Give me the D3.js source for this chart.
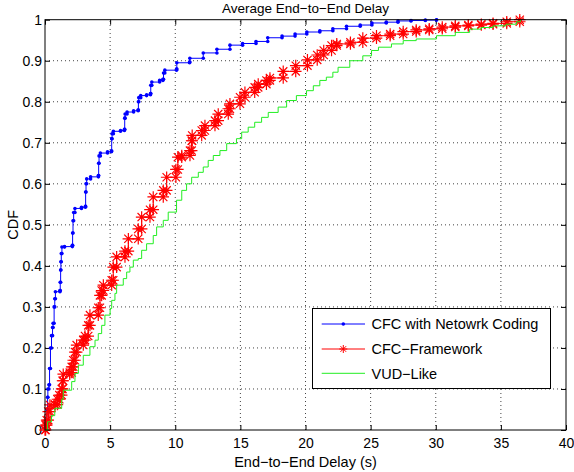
<!DOCTYPE html>
<html><head><meta charset="utf-8">
<script src="https://cdn.jsdelivr.net/npm/d3@7"></script>
<style>
body{margin:0;background:#fff}
svg{display:block}
text{font-family:"Liberation Sans",Arial,Helvetica,sans-serif;fill:#000}
</style>
</head><body>
<svg id="c" width="574" height="472"></svg>
<script>
const seriesNames = ["CFC with Netowrk Coding", "CFC\u2212Framework", "VUD\u2212Like"];
const blueX = [0.05,0.1,0.15,0.2,0.22,0.3,0.35,0.42,0.5,0.58,0.62,0.7,0.75,0.8,1.15,1.17,1.2,1.22,1.25,1.3,1.5,2.1,2.12,2.15,2.2,2.3,2.8,3.1,3.12,3.15,3.2,3.5,4.1,4.12,4.15,4.25,4.8,5.1,5.12,5.15,5.25,5.8,6.1,6.12,6.15,6.3,6.8,7.15,7.17,7.2,7.35,7.8,8.1,8.12,8.2,8.8,9.05,9.1,9.2,10.1,10.12,11.1,11.12,12.15,13.2,14.2,15.17,16.2,17.1,18.2,19.2,20.1,21.1,22.1,23.15,24.2,25.1,26.2,27.1,28.1,29.2,30.06];
const blueY = [0.005,0.02,0.05,0.08,0.1,0.11,0.15,0.2,0.23,0.25,0.26,0.3,0.32,0.337,0.34,0.36,0.39,0.41,0.43,0.446,0.447,0.45,0.48,0.51,0.53,0.54,0.543,0.545,0.58,0.6,0.612,0.617,0.62,0.65,0.668,0.675,0.678,0.68,0.71,0.722,0.728,0.73,0.733,0.76,0.77,0.775,0.778,0.78,0.8,0.81,0.815,0.817,0.82,0.84,0.848,0.852,0.855,0.87,0.877,0.88,0.895,0.897,0.906,0.919,0.928,0.938,0.942,0.947,0.956,0.96,0.965,0.97,0.973,0.978,0.984,0.987,0.992,0.994,0.997,0.998,0.999,1.0];
const redX = [0,0.05,0.13,0.25,0.38,0.77,0.95,1.1,1.28,1.35,1.4,1.9,2.05,2.17,2.3,2.43,2.94,3.07,3.32,3.45,4.09,4.22,4.35,4.48,5.12,5.24,5.5,6.14,6.4,7.16,7.42,8.06,8.31,9.08,9.34,10.05,10.2,10.5,11.13,11.26,11.3,12.03,12.28,13.05,13.3,14.07,14.2,14.97,15.35,16.1,16.37,17.0,17.27,18.29,19.25,20.15,20.9,21.4,22.0,22.4,23.45,24.4,25.45,26.5,27.5,28.5,29.5,30.5,31.5,32.5,33.5,34.4,35.45,36.45];
const redY = [0,0.012,0.024,0.045,0.061,0.062,0.075,0.085,0.1,0.12,0.136,0.14,0.154,0.17,0.19,0.207,0.219,0.229,0.255,0.28,0.298,0.328,0.34,0.353,0.365,0.397,0.422,0.436,0.466,0.49,0.519,0.537,0.568,0.584,0.616,0.635,0.665,0.669,0.681,0.705,0.718,0.73,0.742,0.754,0.77,0.783,0.795,0.811,0.823,0.835,0.843,0.852,0.858,0.874,0.888,0.902,0.914,0.925,0.937,0.941,0.945,0.955,0.961,0.965,0.971,0.975,0.978,0.982,0.985,0.987,0.989,0.991,0.995,1.0];
const greenX = [0,0.2,0.5,0.75,1.28,1.4,2.05,2.3,2.56,2.94,3.45,3.84,4.09,4.35,4.6,5.0,5.12,5.37,5.5,6.01,6.27,6.52,6.78,7.16,7.42,7.8,8.31,8.57,9.08,9.46,10.1,10.5,10.87,11.26,11.77,12.15,12.53,12.92,13.43,13.95,14.7,15.1,15.6,16.1,16.63,17.14,17.9,18.55,19.3,20.08,20.6,21.1,21.6,22.1,22.5,23.4,24.4,25.07,25.6,26.6,27.5,28.5,30.06,31.5,32.6,33.5,34.4,35.4,36.2,36.5];
const greenY = [0,0.02,0.035,0.053,0.075,0.097,0.118,0.138,0.158,0.182,0.203,0.219,0.235,0.255,0.28,0.296,0.316,0.333,0.353,0.369,0.385,0.397,0.414,0.418,0.438,0.454,0.474,0.495,0.511,0.531,0.56,0.584,0.6,0.616,0.628,0.641,0.657,0.669,0.681,0.698,0.71,0.726,0.738,0.75,0.762,0.774,0.787,0.803,0.815,0.827,0.839,0.852,0.86,0.872,0.884,0.9,0.912,0.925,0.933,0.941,0.949,0.953,0.961,0.969,0.977,0.981,0.985,0.989,0.995,1.0];
const xTicks = [0,5,10,15,20,25,30,35,40];
const yTicks = [0,0.1,0.2,0.3,0.4,0.5,0.6,0.7,0.8,0.9,1];
const yTickLabels = ["0","0.1","0.2","0.3","0.4","0.5","0.6","0.7","0.8","0.9","1"];
const titleText = "Average End\u2212to\u2212End Delay";
const xLabel = "End\u2212to\u2212End Delay (s)";
const yLabel = "CDF";

// ---- layout ----
const L = 45, R = 566, T = 19.7, B = 430;
const x = d3.scaleLinear().domain([0, 40]).range([L, R]);
const y = d3.scaleLinear().domain([0, 1]).range([B, T]);
const svg = d3.select("#c");
svg.append("rect").attr("width", 574).attr("height", 472).attr("fill", "#fff");

// grid
const grid = svg.append("g").attr("stroke", "#444").attr("stroke-width", 1).attr("stroke-dasharray", "1,3");
grid.selectAll("line.gx").data(xTicks.slice(1, -1)).join("line")
  .attr("x1", d => x(d)).attr("x2", d => x(d)).attr("y1", y(0)).attr("y2", y(1));
grid.selectAll("line.gy").data(yTicks.slice(1, -1)).join("line")
  .attr("y1", d => y(d)).attr("y2", d => y(d)).attr("x1", x(0)).attr("x2", x(40));

// axes with inward ticks
const fs = "14px";
const gx = svg.append("g").attr("transform", `translate(0,${B})`)
  .call(d3.axisBottom(x).tickValues(xTicks).tickSize(-5).tickSizeOuter(0).tickPadding(8).tickFormat(d3.format("d")));
const gy = svg.append("g").attr("transform", `translate(${L},0)`)
  .call(d3.axisLeft(y).tickValues(yTicks).tickSize(-5).tickSizeOuter(0).tickPadding(3).tickFormat((d, i) => yTickLabels[i]));
const gt = svg.append("g").attr("transform", `translate(0,${T})`)
  .call(d3.axisTop(x).tickValues(xTicks).tickSize(-5).tickSizeOuter(0).tickFormat(""));
const gr = svg.append("g").attr("transform", `translate(${R},0)`)
  .call(d3.axisRight(y).tickValues(yTicks).tickSize(-5).tickSizeOuter(0).tickFormat(""));
[gx, gy, gt, gr].forEach(g => {
  g.select(".domain").remove();
  g.selectAll("text").attr("font-size", fs).attr("font-family", '"Liberation Sans",Arial,sans-serif').attr("fill", "#000");
  g.selectAll("line").attr("stroke", "#000");
});

// series
function corners(xs, ys) {
  const pts = [];
  for (let i = 0; i < xs.length; i++) {
    pts.push([xs[i], ys[i]]);
    if (i + 1 < xs.length) pts.push([xs[i + 1], ys[i]]);
  }
  return pts;
}
const line = d3.line().x(d => x(d[0])).y(d => y(d[1]));
function asterisk(r) {
  const a = r * 0.7071;
  return `M${-r},0L${r},0M0,${-r}L0,${r}M${-a},${-a}L${a},${a}M${-a},${a}L${a},${-a}`;
}
const colBlue = "#0000ff", colRed = "#ff0000", colGreen = "#22ee22";

const bluePts = corners(blueX, blueY);
svg.append("path").datum(bluePts).attr("d", line).attr("fill", "none").attr("stroke", colBlue).attr("stroke-width", 1);
svg.append("g").selectAll("circle").data(bluePts).join("circle")
  .attr("cx", d => x(d[0])).attr("cy", d => y(d[1])).attr("r", 1.8).attr("fill", colBlue);

const redPts = corners(redX, redY);
svg.append("path").datum(redPts).attr("d", line).attr("fill", "none").attr("stroke", colRed).attr("stroke-width", 1);
svg.append("g").selectAll("path").data(redPts).join("path")
  .attr("transform", d => `translate(${x(d[0])},${y(d[1])})`)
  .attr("d", asterisk(5.8)).attr("fill", "none").attr("stroke", colRed).attr("stroke-width", 1.2);

const greenPts = corners(greenX, greenY);
svg.append("path").datum(greenPts).attr("d", line).attr("fill", "none").attr("stroke", colGreen).attr("stroke-width", 1);

// box
svg.append("rect").attr("x", L).attr("y", T).attr("width", R - L).attr("height", B - T)
  .attr("fill", "none").attr("stroke", "#000").attr("stroke-width", 1);

// title and labels
svg.append("text").attr("x", (L + R) / 2).attr("y", 12.5).attr("text-anchor", "middle").attr("font-size", "13.5px").text(titleText);
svg.append("text").attr("x", (L + R) / 2).attr("y", 467).attr("text-anchor", "middle").attr("font-size", "14.5px").text(xLabel);
svg.append("text").attr("transform", `translate(18,${(T + B) / 2}) rotate(-90)`).attr("text-anchor", "middle").attr("font-size", "14.5px").text(yLabel);

// legend
const lg = svg.append("g");
lg.append("rect").attr("x", 312.5).attr("y", 308.5).attr("width", 238).attr("height", 80)
  .attr("fill", "#fff").attr("stroke", "#000").attr("stroke-width", 1);
const rows = [324, 349, 373.3];
const cols = [colBlue, colRed, colGreen];
rows.forEach((ry, i) => {
  lg.append("line").attr("x1", 321.7).attr("x2", 365).attr("y1", ry).attr("y2", ry).attr("stroke", cols[i]).attr("stroke-width", 1);
  if (i === 0) lg.append("circle").attr("cx", 343.3).attr("cy", ry).attr("r", 1.8).attr("fill", colBlue);
  if (i === 1) lg.append("path").attr("transform", `translate(343.3,${ry})`).attr("d", asterisk(4)).attr("fill", "none").attr("stroke", colRed);
  lg.append("text").attr("x", 371.5).attr("y", ry + 5.2).attr("font-size", "14.5px").text(seriesNames[i]);
});
</script>
</body></html>
